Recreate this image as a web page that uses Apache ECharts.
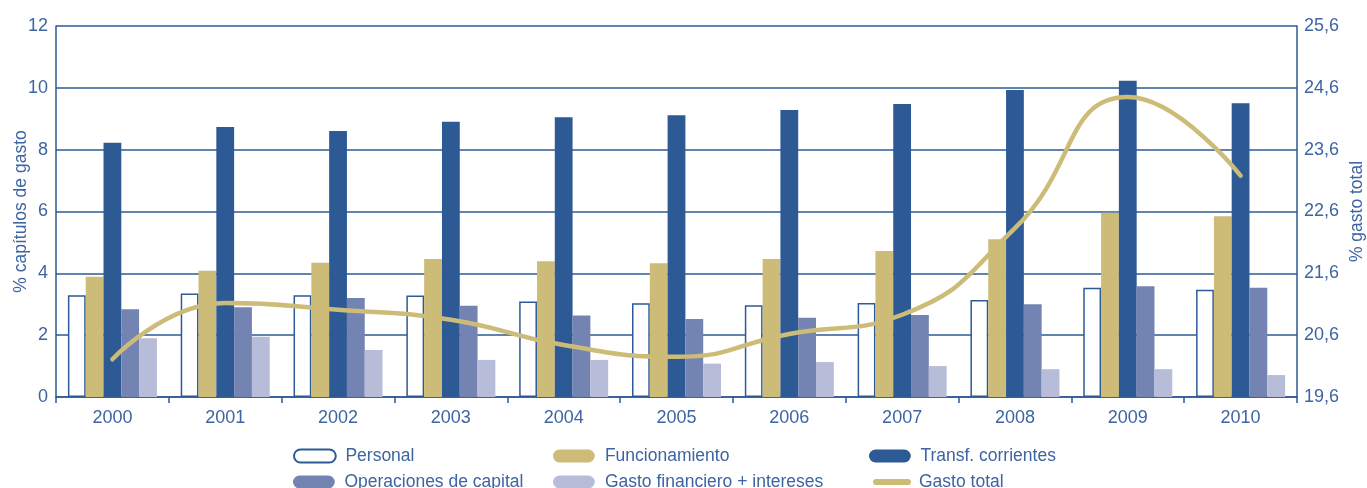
<!DOCTYPE html>
<html><head><meta charset="utf-8">
<script src="https://cdn.jsdelivr.net/npm/echarts@6/dist/echarts.min.js"></script>
<style>html,body{margin:0;padding:0;background:#fff}#c{width:1367px;height:488px}</style>
</head><body><div id="c"></div>
<script>
const years = ['2000','2001','2002','2003','2004','2005','2006','2007','2008','2009','2010'];
const personal = [3.29,3.35,3.29,3.28,3.09,3.03,2.97,3.04,3.14,3.53,3.47];
const funcionamiento = [3.89,4.08,4.34,4.46,4.39,4.33,4.46,4.72,5.10,5.96,5.85];
const transferencias = [8.22,8.73,8.60,8.90,9.05,9.11,9.28,9.48,9.93,10.23,9.50];
const operaciones = [2.84,2.90,3.20,2.95,2.64,2.52,2.56,2.65,3.00,3.58,3.53];
const gastoFinanciero = [1.90,1.95,1.52,1.20,1.20,1.08,1.13,1.00,0.90,0.90,0.71];
const gastoTotal = [20.21,21.12,21.01,20.85,20.44,20.25,20.62,20.93,22.33,24.45,23.18];
const leftTicks = [0,2,4,6,8,10,12];
const rightTicks = [19.6,20.6,21.6,22.6,23.6,24.6,25.6];

const BLUE = '#2d5a96', TXT = '#3d64a3', FONT = 'Liberation Sans';
const pill = 'path://M7,0 H38 A7,7 0 0 1 38,14 H7 A7,7 0 0 1 7,0 Z';
const chart = echarts.init(document.getElementById('c'));
function lg(name, left, top, icon, w, h) {
  return {data:[{name:name, icon:icon}], left:left, top:top, itemWidth:w, itemHeight:h, itemGap:0,
    padding:0, textStyle:{color:TXT, fontSize:17.5, fontFamily:FONT, padding:[0,0,0,3]}, selectedMode:false};
}
const barBase = {type:'bar', barWidth:17.8, barGap:'0%'};
chart.setOption({
  animation:false,
  textStyle:{fontFamily:FONT},
  grid:{left:56, right:70, top:26, bottom:91, outerBoundsMode:'none', containLabel:false},
  legend:[
    lg('Personal', 293, 447, pill, 45, 13),
    lg('Funcionamiento', 553, 447, pill, 46, 13),
    lg('Transf. corrientes', 869, 447, pill, 45, 13),
    lg('Operaciones de capital', 293, 473, pill, 45, 13),
    lg('Gasto financiero + intereses', 553, 473, pill, 46, 13),
    lg('Gasto total', 873, 473, 'path://M3,0 H35 A3,3 0 0 1 35,6 H3 A3,3 0 0 1 3,0 Z', 38, 6)
  ],
  xAxis:{type:'category', data:years,
    axisLine:{lineStyle:{color:BLUE, width:1.5}},
    axisTick:{show:true, length:6, lineStyle:{color:BLUE, width:1.5}},
    axisLabel:{color:TXT, fontSize:18, margin:12, fontFamily:FONT}},
  yAxis:[
    {type:'value', min:0, max:12, interval:2, position:'left',
      name:'% capítulos de gasto', nameLocation:'middle', nameGap:26, nameRotate:90, nameMoveOverlap:false,
      nameTextStyle:{color:TXT, fontSize:17.5, fontFamily:FONT},
      axisLine:{show:true, lineStyle:{color:BLUE, width:1.5}},
      axisTick:{show:false},
      axisLabel:{color:TXT, fontSize:18, margin:8, fontFamily:FONT},
      splitLine:{lineStyle:{color:BLUE, width:1.5}}},
    {type:'value', min:19.6, max:25.6, interval:1, position:'right',
      name:'% gasto total', nameLocation:'middle', nameGap:51, nameRotate:90, nameMoveOverlap:false,
      nameTextStyle:{color:TXT, fontSize:17.5, fontFamily:FONT},
      axisLine:{show:true, lineStyle:{color:BLUE, width:1.5}},
      axisTick:{show:false},
      axisLabel:{color:TXT, fontSize:18, margin:7, fontFamily:FONT,
        formatter:v=>v.toFixed(1).replace('.',',')},
      splitLine:{show:false}}
  ],
  series:[
    Object.assign({name:'Personal', data:personal, itemStyle:{color:'#ffffff', borderColor:BLUE, borderWidth:1.5}}, barBase),
    Object.assign({name:'Funcionamiento', data:funcionamiento, itemStyle:{color:'#cdbb78'}}, barBase),
    Object.assign({name:'Transf. corrientes', data:transferencias, itemStyle:{color:'#2d5994'}}, barBase),
    Object.assign({name:'Operaciones de capital', data:operaciones, itemStyle:{color:'#7384b2'}}, barBase),
    Object.assign({name:'Gasto financiero + intereses', data:gastoFinanciero, itemStyle:{color:'#b7bcd8'}}, barBase),
    {name:'Gasto total', type:'line', yAxisIndex:1, data:gastoTotal, smooth:0.5, showSymbol:false,
      lineStyle:{color:'#cdbb78', width:4.5, cap:'round'}, itemStyle:{color:'#cdbb78'}, z:5}
  ]
});
</script></body></html>
